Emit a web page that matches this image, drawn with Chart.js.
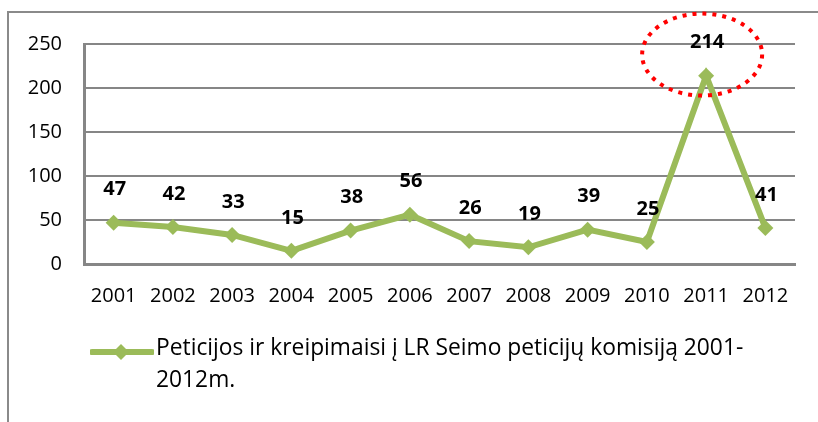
<!DOCTYPE html>
<html>
<head>
<meta charset="utf-8">
<script src="https://cdn.jsdelivr.net/npm/chart.js@4.4.1/dist/chart.umd.min.js"></script>
<style>
  html, body { margin: 0; padding: 0; background: #fff; }
  #wrap { position: relative; width: 818px; height: 422px; overflow: hidden; }
  #frame { position: absolute; left: 7px; top: 11px; width: 820px; height: 420px;
           border-left: 2px solid #8a8a8a; border-top: 2px solid #8a8a8a; box-sizing: border-box; }
  canvas { position: absolute; left: 0; top: 0; }
  #legend { position: absolute; left: 90px; top: 331px; width: 680px;
            font-family: "Open Sans", sans-serif; font-size: 22.8px; line-height: 32px; color: #000; }
  #legend svg { position: absolute; left: 0; top: 10px; }
  #legend .txt { margin-left: 66px; }
</style>
</head>
<body>
<div id="wrap">
  <div id="frame"></div>
  <canvas id="c" width="818" height="422"></canvas>
  <div id="legend">
    <svg width="64" height="24" viewBox="0 0 64 24">
      <line x1="2" y1="11" x2="62" y2="11" stroke="#9BBB59" stroke-width="6" stroke-linecap="round"/>
      <polygon points="31,3 39,11 31,19 23,11" fill="#9BBB59"/>
    </svg>
    <div class="txt" id="legendText"></div>
  </div>
</div>
<script>
const categories = ["2001","2002","2003","2004","2005","2006","2007","2008","2009","2010","2011","2012"];
const values = [47, 42, 33, 15, 38, 56, 26, 19, 39, 25, 214, 41];
const seriesName = "Peticijos ir kreipimaisi į LR Seimo peticijų komisiją 2001-2012m.";
const yTicks = [0, 50, 100, 150, 200, 250];
const highlightIndex = 10;

document.getElementById('legendText').innerHTML =
  "Peticijos ir kreipimaisi į LR Seimo peticijų komisiją 2001-<br>2012m.";

const green = '#9BBB59';
const gridColor = '#868686';

const labelsPlugin = {
  id: 'valueLabels',
  afterDatasetsDraw(chart) {
    const ctx = chart.ctx;
    const meta = chart.getDatasetMeta(0);
    ctx.save();
    ctx.font = 'bold 20px "Open Sans", sans-serif';
    ctx.fillStyle = '#000';
    ctx.textAlign = 'center';
    ctx.textBaseline = 'middle';
    meta.data.forEach((pt, i) => {
      ctx.fillText(String(values[i]), pt.x + 1, pt.y - 33);
    });
    // highlight ellipse around the peak
    const xs = chart.scales.x, ys = chart.scales.y;
    const cx = xs.getPixelForValue(highlightIndex) - 4;
    const cy = ys.getPixelForValue(238);
    ctx.strokeStyle = '#ff0000';
    ctx.lineWidth = 4;
    ctx.setLineDash([4, 6]);
    ctx.beginPath();
    ctx.ellipse(cx, cy, 60, 41, 0, 0, Math.PI * 2);
    ctx.stroke();
    ctx.restore();
  }
};

new Chart(document.getElementById('c'), {
  type: 'line',
  data: {
    labels: categories,
    datasets: [{
      label: seriesName,
      data: values,
      borderColor: green,
      backgroundColor: green,
      borderWidth: 6,
      pointStyle: 'rectRot',
      pointRadius: 8,
      pointHoverRadius: 8,
      pointBackgroundColor: green,
      pointBorderColor: green,
      pointBorderWidth: 0,
      tension: 0
    }]
  },
  options: {
    responsive: false,
    animation: false,
    devicePixelRatio: 1,
    layout: { padding: { top: 44, right: 23, bottom: 0, left: 0 } },
    plugins: { legend: { display: false }, tooltip: { enabled: false } },
    scales: {
      x: {
        offset: true,
        grid: { display: false, drawTicks: false },
        border: { display: true, color: gridColor, width: 3 },
        ticks: { color: '#000', font: { family: '"Open Sans", sans-serif', size: 20 }, padding: 20, maxRotation: 0, autoSkip: false },
        afterFit(scale) { scale.height = 158; }
      },
      y: {
        min: 0, max: 250,
        afterBuildTicks(scale) { scale.ticks = yTicks.map(v => ({ value: v })); },
        grid: { color: gridColor, lineWidth: 2, drawTicks: false },
        border: { display: true, color: gridColor, width: 3 },
        ticks: { color: '#000', font: { family: '"Open Sans", sans-serif', size: 20 }, padding: 22 },
        afterFit(scale) { scale.width = 84; }
      }
    }
  },
  plugins: [labelsPlugin]
});
</script>
</body>
</html>
